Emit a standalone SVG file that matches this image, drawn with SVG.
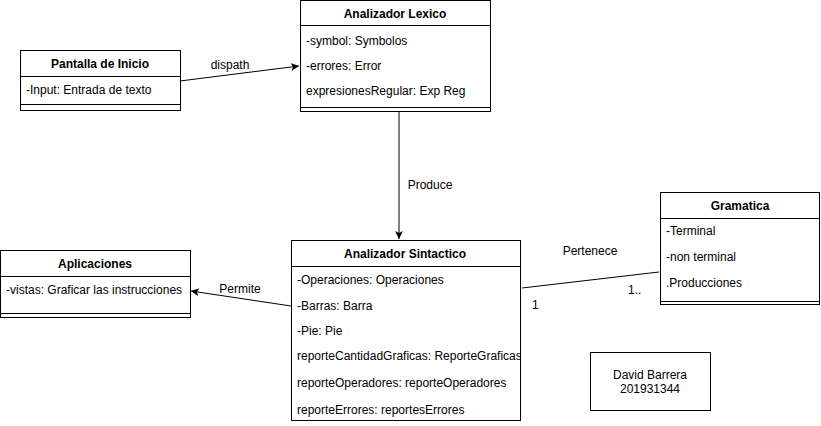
<svg xmlns="http://www.w3.org/2000/svg" width="821" height="426" viewBox="0 0 821 426">
<defs>
<style>
.box{fill:#fff;stroke:#000;stroke-width:1}
.ln{stroke:#000;stroke-width:1;fill:none}
text{font-family:"Liberation Sans",Arial,sans-serif;font-size:12px;fill:#000}
.h{font-weight:bold;text-anchor:middle}
.c{text-anchor:middle}
</style>
<marker id="arr" markerWidth="10" markerHeight="10" refX="8" refY="4" orient="auto" markerUnits="userSpaceOnUse">
<path d="M0,0 L8,4 L0,8 L2,4 Z" fill="#000"/>
</marker>
</defs>
<rect width="821" height="426" fill="#fff"/>
<g id="connectors">
<line class="ln" x1="180" y1="81" x2="299" y2="66" marker-end="url(#arr)"/>
<text class="c" x="230" y="69">dispath</text>
<line class="ln" x1="399" y1="108" x2="399" y2="239" marker-end="url(#arr)"/>
<text class="c" x="430" y="189">Produce</text>
<line class="ln" x1="291" y1="306" x2="191" y2="291" marker-end="url(#arr)"/>
<text class="c" x="240" y="293">Permite</text>
<line class="ln" x1="522" y1="288" x2="659" y2="272"/>
<text class="c" x="590" y="255">Pertenece</text>
<text x="532" y="309">1</text>
<text x="628" y="294">1..</text>
</g>
<g id="pantalla">
<rect class="box" x="20.5" y="50.5" width="160" height="60"/>
<line class="ln" x1="20.5" y1="76.5" x2="180.5" y2="76.5"/>
<line class="ln" x1="20.5" y1="104.5" x2="180.5" y2="104.5"/>
<text class="h" x="100" y="68">Pantalla de Inicio</text>
<text x="26" y="94">-Input: Entrada de texto</text>
</g>
<g id="lexico">
<rect class="box" x="300.5" y="0.5" width="190" height="111"/>
<line class="ln" x1="300.5" y1="25.5" x2="490.5" y2="25.5"/>
<line class="ln" x1="300.5" y1="107.5" x2="490.5" y2="107.5"/>
<text class="h" x="395" y="18">Analizador Lexico</text>
<text x="306" y="45">-symbol: Symbolos</text>
<text x="306" y="70">-errores: Error</text>
<text x="306" y="95">expresionesRegular: Exp Reg</text>
</g>
<g id="sintactico">
<rect class="box" x="291.5" y="240.5" width="229" height="180"/>
<line class="ln" x1="291.5" y1="266.5" x2="520.5" y2="266.5"/>
<text class="h" x="405" y="258">Analizador Sintactico</text>
<text x="297" y="284">-Operaciones: Operaciones</text>
<text x="297" y="310">-Barras: Barra</text>
<text x="297" y="335">-Pie: Pie</text>
<svg x="291" y="340" width="229" height="30" overflow="hidden"><text x="6" y="20">reporteCantidadGraficas: ReporteGraficas</text></svg>
<text x="297" y="387">reporteOperadores: reporteOperadores</text>
<text x="297" y="414">reporteErrores: reportesErrores</text>
</g>
<g id="aplicaciones">
<rect class="box" x="0.5" y="250.5" width="190" height="67"/>
<line class="ln" x1="0.5" y1="276.5" x2="190.5" y2="276.5"/>
<line class="ln" x1="0.5" y1="313.5" x2="190.5" y2="313.5"/>
<text class="h" x="95" y="268">Aplicaciones</text>
<text x="6" y="294">-vistas: Graficar las instrucciones</text>
</g>
<g id="gramatica">
<rect class="box" x="660.5" y="192.5" width="159" height="112"/>
<line class="ln" x1="660.5" y1="218.5" x2="819.5" y2="218.5"/>
<line class="ln" x1="660.5" y1="301.5" x2="819.5" y2="301.5"/>
<text class="h" x="740" y="210">Gramatica</text>
<text x="666" y="235">-Terminal</text>
<text x="666" y="261">-non terminal</text>
<text x="666" y="287">.Producciones</text>
</g>
<g id="autor">
<rect class="box" x="590.5" y="352.5" width="120" height="58"/>
<text class="c" x="650" y="379">David Barrera</text>
<text class="c" x="650" y="393">201931344</text>
</g>
</svg>
